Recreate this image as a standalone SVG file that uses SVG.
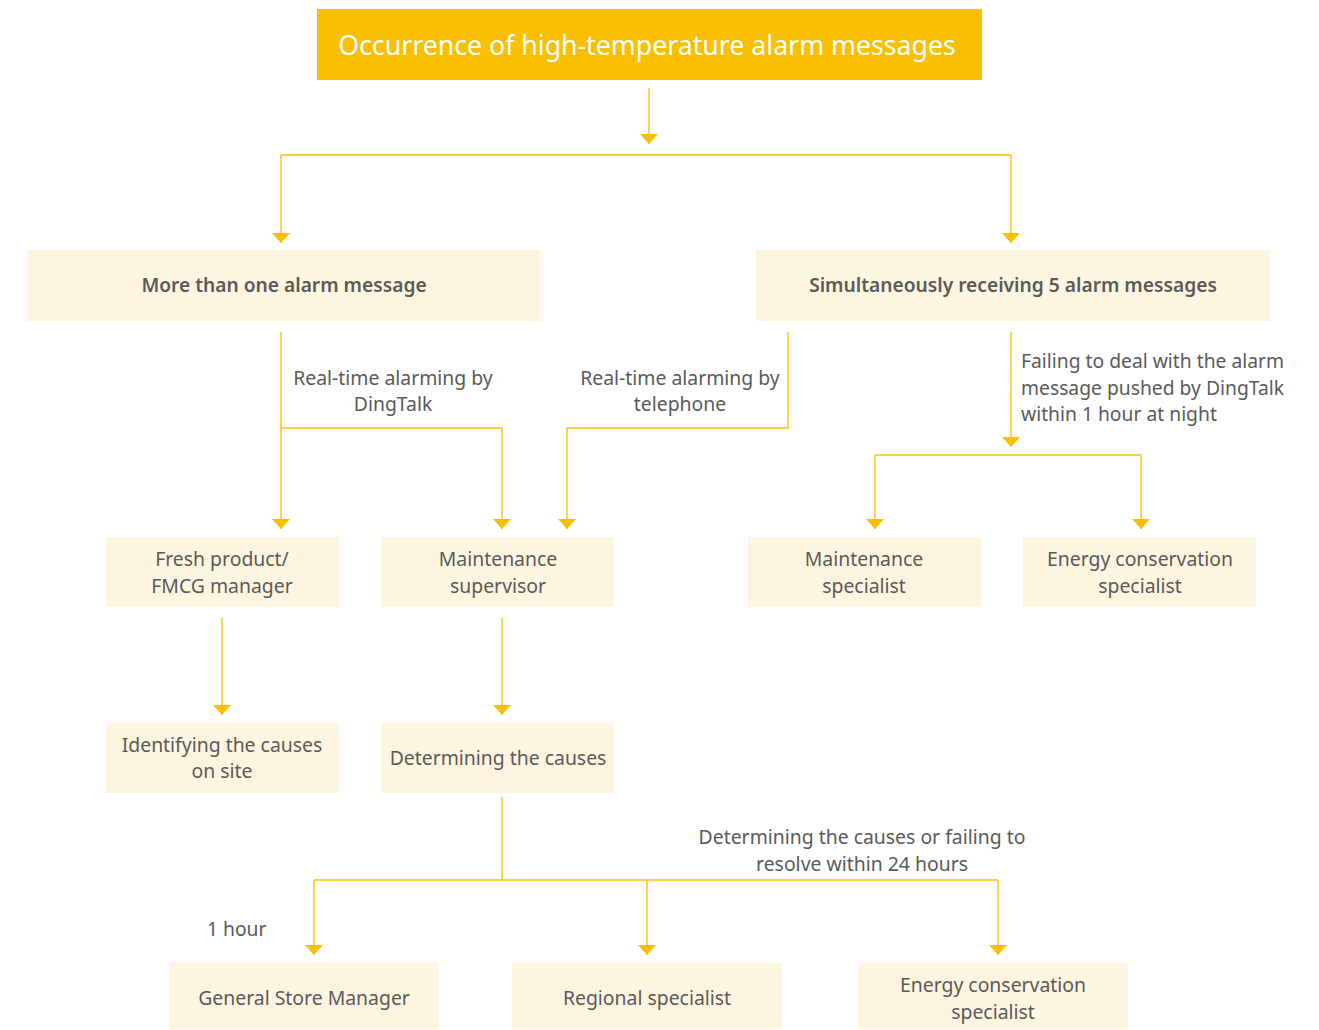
<svg xmlns="http://www.w3.org/2000/svg" width="1319" height="1030" viewBox="0 0 1319 1030">
<defs>
<marker id="arr" markerUnits="userSpaceOnUse" markerWidth="11" markerHeight="18" refX="10" refY="9" orient="auto">
<path d="M0,0 L10,9 L0,18 z" fill="#F9BF00"/>
</marker>
<style>
.box{fill:#FEF5E1}
.t{font-family:"Noto Sans","Open Sans",sans-serif;font-size:19.4px;fill:#5a5a5a;text-anchor:middle}
.b{font-weight:600;font-size:19.2px}
.l{font-family:"Noto Sans","Open Sans",sans-serif;font-size:19.3px;fill:#5a5a5a}
.c{fill:none;stroke:#F9C10A;stroke-width:1.4}
.a{marker-end:url(#arr)}
</style>
</defs>
<rect width="1319" height="1030" fill="#ffffff"/>
<g id="connectors">
<path class="c a" d="M649,88 V144"/>
<path class="c" d="M281,155 H1011"/>
<path class="c a" d="M281,155 V243"/>
<path class="c a" d="M1011,155 V243"/>
<path class="c a" d="M281,332 V529"/>
<path class="c a" d="M281,428 H502 V529"/>
<path class="c a" d="M788,332 V428 H567 V529"/>
<path class="c a" d="M1011,332 V447"/>
<path class="c a" d="M875,455 H1141 V529"/>
<path class="c a" d="M875,455 V529"/>
<path class="c a" d="M222,618 V715"/>
<path class="c a" d="M502,618 V715"/>
<path class="c" d="M502,797 V880"/>
<path class="c" d="M314,880 H998"/>
<path class="c a" d="M314,880 V955"/>
<path class="c a" d="M647,880 V955"/>
<path class="c a" d="M998,880 V955"/>
</g>
<g id="labels">
<text class="t" x="393" y="385">Real-time alarming by</text>
<text class="t" x="393" y="411">DingTalk</text>
<text class="t" x="680" y="385">Real-time alarming by</text>
<text class="t" x="680" y="411">telephone</text>
<text class="l" x="1021" y="368">Failing to deal with the alarm</text>
<text class="l" x="1021" y="395">message pushed by DingTalk</text>
<text class="l" x="1021" y="421">within 1 hour at night</text>
<text class="t" x="862" y="844">Determining the causes or failing to</text>
<text class="t" x="862" y="871">resolve within 24 hours</text>
<text class="l" x="207" y="936">1 hour</text>
</g>
<g id="n-title">
<rect x="317" y="9" width="665" height="71" fill="#F9BF00"/>
<text x="647" y="55" text-anchor="middle" font-family="'Noto Sans','Open Sans',sans-serif" font-size="26.7" fill="#ffffff">Occurrence of high-temperature alarm messages</text>
</g>
<g id="n-more">
<rect class="box" x="27" y="250" width="514" height="71"/>
<text class="t b" x="284" y="292">More than one alarm message</text>
</g>
<g id="n-simul">
<rect class="box" x="756" y="250" width="514" height="71"/>
<text class="t b" x="1013" y="292">Simultaneously receiving 5 alarm messages</text>
</g>
<g id="n-fresh">
<rect class="box" x="106" y="537" width="233" height="70"/>
<text class="t" x="222" y="566">Fresh product/</text>
<text class="t" x="222" y="593">FMCG manager</text>
</g>
<g id="n-supervisor">
<rect class="box" x="381" y="537" width="233" height="70"/>
<text class="t" x="498" y="566">Maintenance</text>
<text class="t" x="498" y="593">supervisor</text>
</g>
<g id="n-mspecialist">
<rect class="box" x="748" y="537" width="233" height="70"/>
<text class="t" x="864" y="566">Maintenance</text>
<text class="t" x="864" y="593">specialist</text>
</g>
<g id="n-energy1">
<rect class="box" x="1023" y="537" width="233" height="70"/>
<text class="t" x="1140" y="566">Energy conservation</text>
<text class="t" x="1140" y="593">specialist</text>
</g>
<g id="n-identify">
<rect class="box" x="106" y="723" width="233" height="70"/>
<text class="t" x="222" y="752">Identifying the causes</text>
<text class="t" x="222" y="778">on site</text>
</g>
<g id="n-determine">
<rect class="box" x="381" y="723" width="233" height="70"/>
<text class="t" x="498" y="765">Determining the causes</text>
</g>
<g id="n-gsm">
<rect class="box" x="169" y="963" width="270" height="66"/>
<text class="t" x="304" y="1005">General Store Manager</text>
</g>
<g id="n-regional">
<rect class="box" x="512" y="963" width="270" height="66"/>
<text class="t" x="647" y="1005">Regional specialist</text>
</g>
<g id="n-energy2">
<rect class="box" x="858" y="963" width="270" height="66"/>
<text class="t" x="993" y="992">Energy conservation</text>
<text class="t" x="993" y="1019">specialist</text>
</g>
</svg>
